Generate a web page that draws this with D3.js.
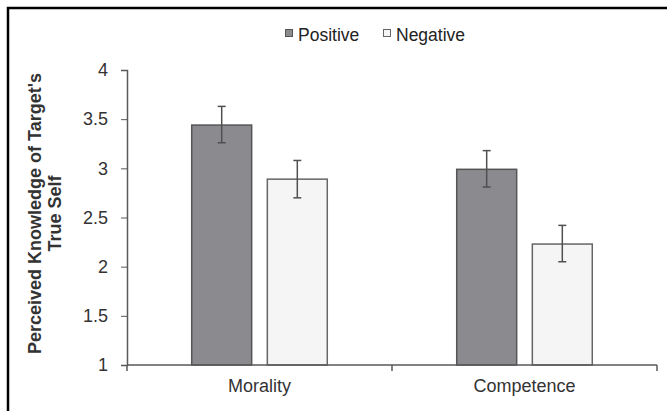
<!DOCTYPE html>
<html>
<head>
<meta charset="utf-8">
<script src="https://cdn.jsdelivr.net/npm/d3@7"></script>
<style>
  body { margin: 0; background: #fff; }
  svg { display: block; font-family: "Liberation Sans", Arial, sans-serif; }
</style>
</head>
<body>
<svg id="chart" width="667" height="411"></svg>
<script>
// Chart data
const categories = ["Morality", "Competence"];
const seriesNames = ["Positive", "Negative"];
const means = [[3.44, 2.89], [2.99, 2.23]];
const errLow = [[3.26, 2.70], [2.81, 2.05]];
const errHigh = [[3.63, 3.08], [3.18, 2.42]];
const yTicks = [1, 1.5, 2, 2.5, 3, 3.5, 4];
const yTitle = ["Perceived Knowledge of Target's", "True Self"];

const fills = ["#8b8b8f", "#f5f5f5"];
const strokes = ["#555555", "#666666"];
const axisColor = "#595959";

const svg = d3.select("#chart");

// Frame around the figure (top and left edges only)
svg.append("path")
  .attr("d", "M8,411 L8,8 L667,8")
  .attr("fill", "none")
  .attr("stroke", "#000")
  .attr("stroke-width", 2.5);

// Scales
const x0 = d3.scaleBand()
  .domain(categories)
  .range([127, 657]);

const x1 = d3.scaleBand()
  .domain(seriesNames)
  .range([0, x0.bandwidth()])
  .paddingInner(0.207)
  .paddingOuter(0.856);

const y = d3.scaleLinear()
  .domain([1, 4])
  .range([365, 70]);

// Y axis
const yAxis = svg.append("g")
  .attr("transform", "translate(127,0)")
  .call(d3.axisLeft(y).tickValues(yTicks).tickSize(6).tickPadding(13).tickFormat(d3.format("~g")));
yAxis.select(".domain").attr("stroke", axisColor).attr("stroke-width", 1.5);
yAxis.selectAll(".tick line").attr("stroke", axisColor).attr("stroke-width", 1);
yAxis.selectAll(".tick text")
  .attr("fill", "#333")
  .style("font-size", "18px")
  .style("font-family", "Liberation Sans, Arial, sans-serif");

// Bars
const groups = svg.selectAll("g.group")
  .data(categories)
  .enter().append("g")
  .attr("class", "group")
  .attr("transform", d => `translate(${x0(d)},0)`);

groups.each(function(cat, ci) {
  const g = d3.select(this);
  seriesNames.forEach((s, si) => {
    g.append("rect")
      .attr("x", x1(s))
      .attr("y", y(means[ci][si]))
      .attr("width", x1.bandwidth())
      .attr("height", y(1) - y(means[ci][si]))
      .attr("fill", fills[si])
      .attr("stroke", strokes[si])
      .attr("stroke-width", 1.5);

    // Error bar
    const cx = x1(s) + x1.bandwidth() / 2;
    const eb = g.append("g").attr("stroke", "#505050").attr("stroke-width", 1.5);
    eb.append("line")
      .attr("x1", cx).attr("x2", cx)
      .attr("y1", y(errLow[ci][si])).attr("y2", y(errHigh[ci][si]));
    eb.append("line")
      .attr("x1", cx - 4).attr("x2", cx + 4)
      .attr("y1", y(errHigh[ci][si])).attr("y2", y(errHigh[ci][si]));
    eb.append("line")
      .attr("x1", cx - 4).attr("x2", cx + 4)
      .attr("y1", y(errLow[ci][si])).attr("y2", y(errLow[ci][si]));
  });
});

// X axis (ticks at category boundaries)
const xAxis = svg.append("g").attr("transform", `translate(0,${y(1)})`);
xAxis.append("line")
  .attr("x1", x0.range()[0]).attr("x2", x0.range()[1])
  .attr("stroke", axisColor).attr("stroke-width", 1.5);
const bounds = [x0(categories[0])].concat(categories.map(c => x0(c) + x0.bandwidth()));
xAxis.selectAll("line.tick")
  .data(bounds)
  .enter().append("line")
  .attr("class", "tick")
  .attr("x1", d => d).attr("x2", d => d)
  .attr("y1", 0).attr("y2", 6)
  .attr("stroke", axisColor).attr("stroke-width", 1.5);
xAxis.selectAll("text")
  .data(categories)
  .enter().append("text")
  .attr("x", d => x0(d) + x0.bandwidth() / 2)
  .attr("y", 27)
  .attr("text-anchor", "middle")
  .attr("fill", "#333")
  .style("font-size", "18px")
  .text(d => d);

// Y axis title
const title = svg.append("text")
  .attr("transform", "translate(0,213.5) rotate(-90)")
  .attr("text-anchor", "middle")
  .attr("fill", "#333")
  .style("font-size", "18px")
  .style("font-weight", "bold");
title.selectAll("tspan")
  .data(yTitle)
  .enter().append("tspan")
  .attr("x", 0)
  .attr("y", (d, i) => 41 + i * 20)
  .text(d => d);

// Legend
const legend = svg.append("g").attr("class", "legend");
const legendX = [285, 383];
seriesNames.forEach((s, i) => {
  legend.append("rect")
    .attr("x", legendX[i] + 0.5)
    .attr("y", 29.5)
    .attr("width", 7)
    .attr("height", 7)
    .attr("fill", fills[i])
    .attr("stroke", strokes[i])
    .attr("stroke-width", 1);
  legend.append("text")
    .attr("x", legendX[i] + 13)
    .attr("y", 41)
    .attr("fill", "#222")
    .style("font-size", "17.5px")
    .text(s);
});
</script>
</body>
</html>
